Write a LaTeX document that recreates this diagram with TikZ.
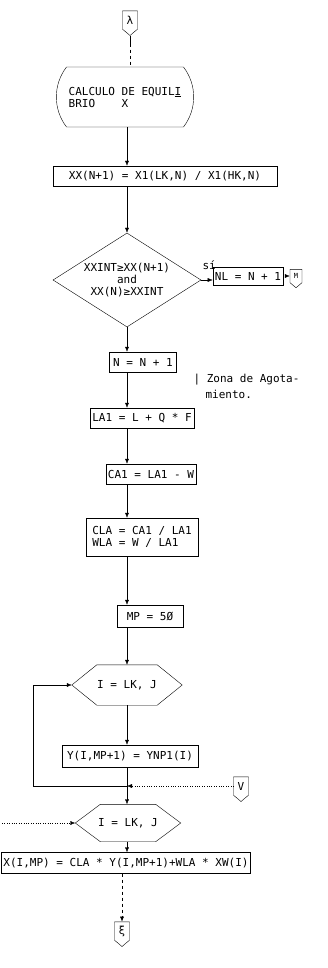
\documentclass[tikz,border=0pt]{standalone}
\usepackage{fontspec}
\setmainfont{DejaVu Sans Mono}
\usetikzlibrary{arrows.meta, shapes.geometric, shapes.misc, shapes.symbols, calc}
\tikzset{
	proc/.style={draw, rectangle, minimum height=20pt, inner sep=2pt},
	term/.style={draw, rounded rectangle, rounded rectangle arc length=75,
		minimum width=144pt, minimum height=60pt, align=left},
	conn/.style={draw, signal, signal to=south, signal pointer angle=100,
		minimum width=15pt, minimum height=22pt, inner sep=1pt},
	decis/.style={draw, diamond, minimum width=148pt, minimum height=94pt, inner sep=0pt},
	loopbox/.style={minimum width=110pt, minimum height=40pt, inner sep=0pt},
	flow/.style={draw, -{Latex[length=5pt, width=4pt]}}
}

\begin{document}
\begin{tikzpicture}[
    x=1pt, y=-1pt,
    % typewriter look of the original listing
    font=\fontsize{11}{12}\selectfont,
    thin
]
\useasboundingbox (0,0) rectangle (328,968);

% flow axis and loop rail
\coordinate (fx) at (127,0);
\coordinate (railx) at (33,0);

% --- TOP: CONNECTOR AND START ---
\node[conn] (conA) at (130,20) {λ};
\node[term] (start) at (125,97) {CALCULO DE EQUIL\underline{I}\\BRIO\ \ \ \ X};
\node[proc, minimum width=224pt] (ratio) at (165,176) {XX(N+1) = X1(LK,N) / X1(HK,N)};

% --- DECISION ---
\node[decis] (test) at (127,280) {};
\node[align=center, inner sep=0pt] (testtxt) at (test) {XXINT≥XX(N+1)\\and\\XX(N)≥XXINT};
\node[proc, minimum width=62pt, minimum height=18pt] (setnl) at (248,276) {NL = N + 1};
\node[conn, minimum width=12pt, minimum height=16pt, font=\scriptsize] (conM) at (296,276) {M};
\node[anchor=south west] (yes) at (199,273) {sí};

% --- STRIPPING ZONE STEPS ---
\node[proc, minimum width=67pt] (incn) at (143,362) {N = N + 1};
\node[anchor=west] (zone) at (190,380) {| Zona de Agota-};
\node[anchor=west] (zone2) at (202,394) {miento.};
\node[proc, minimum width=104pt] (liq) at (142,418) {LA1 = L + Q * F};
\node[proc, minimum width=84pt] (gas) at (151,474) {CA1 = LA1 - W};
\node[proc, minimum width=112pt, minimum height=38pt, align=left] (frac) at (142,537)
    {CLA = CA1 / LA1\\WLA = W / LA1};
\node[proc, minimum width=66pt, minimum height=22pt] (plate) at (150,616) {MP = 5Ø};

% --- LOOPS ---
\node[loopbox] (loopA) at (127,685) {I = LK, J};
\draw (loopA.west) -- ($(loopA.north west)+(25,0)$) -- ($(loopA.north east)+(-25,0)$)
    -- (loopA.east) -- ($(loopA.south east)+(-25,0)$) -- ($(loopA.south west)+(25,0)$) -- cycle;
\node[proc, minimum width=136pt, minimum height=22pt] (ycopy) at (130,756) {Y(I,MP+1) = YNP1(I)};
\coordinate (join) at (127,786);
\node[conn] (conV) at (241,786) {V};
\node[loopbox, minimum width=105pt, minimum height=37pt] (loopB) at (128,823) {I = LK, J};
\draw (loopB.west) -- ($(loopB.north west)+(25,0)$) -- ($(loopB.north east)+(-25,0)$)
    -- (loopB.east) -- ($(loopB.south east)+(-25,0)$) -- ($(loopB.south west)+(25,0)$) -- cycle;
\coordinate (entry) at (2,823);
\node[proc, minimum width=246pt, minimum height=21pt] (xcalc) at (126,863)
    {X(I,MP) = CLA * Y(I,MP+1)+WLA * XW(I)};
\node[conn] (conE) at (122,931) {ξ};

% --- CONNECTORS ---
\draw (conA.south) -- ++(0,8) coordinate (a1);
\draw[dashed] (a1) -- (start.north -| conA.south);
\draw[flow] (start.south -| fx) -- (ratio.north -| fx);
\draw[flow] (ratio.south -| fx) -- (test.north -| fx);
\draw[flow] (test.east) -- (setnl.west |- test.east);
\draw[flow, dotted] (setnl.east) -- (conM.west);
\draw[flow] (test.south) -- (incn.north -| test.south);
\draw[flow] (incn.south -| fx) -- (liq.north -| fx);
\draw[flow] (liq.south -| fx) -- (gas.north -| fx);
\draw[flow] (gas.south -| fx) -- (frac.north -| fx);
\draw[flow] (frac.south -| fx) -- (plate.north -| fx);
\draw[flow] (plate.south -| fx) -- (loopA.north -| fx);
\draw[flow] (loopA.south -| fx) -- (ycopy.north -| fx);
\draw (ycopy.south -| fx) -- (join);
\draw[flow] (join) -- (join -| railx) |- (loopA.west);
\draw[flow, dotted] (conV.west) -- (join);
\draw[flow] (join) -- (loopB.north -| fx);
\draw[flow, dotted] (entry) -- (loopB.west);
\draw[flow] (loopB.south -| fx) -- (xcalc.north -| fx);
\draw[flow, dashed] (xcalc.south -| conE.north) -- (conE.north);

\end{tikzpicture}
\end{document}
